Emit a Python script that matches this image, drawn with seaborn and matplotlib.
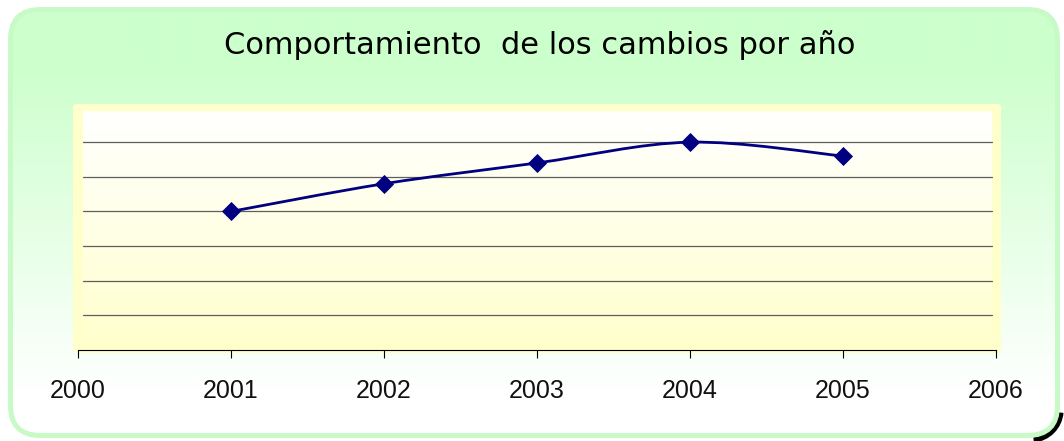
import numpy as np
import matplotlib
matplotlib.use("Agg")
import matplotlib.pyplot as plt
from matplotlib.patches import FancyBboxPatch, PathPatch, Arc
from matplotlib.path import Path
import seaborn as sns

# Chart data
years = [2001, 2002, 2003, 2004, 2005]
changes = [4.0, 4.8, 5.4, 6.0, 5.6]
x_ticks = [2000, 2001, 2002, 2003, 2004, 2005, 2006]
x_labels = ["2000", "2001", "2002", "2003", "2004", "2005", "2006"]
grid_levels = [1, 2, 3, 4, 5, 6]
title = "Comportamiento  de los cambios por año"

W, H = 1064, 441
sns.set_theme(style="white")
plt.rcParams["font.family"] = ["Liberation Sans", "DejaVu Sans"]

fig = plt.figure(figsize=(W / 100, H / 100), dpi=100)
fig.patch.set_facecolor("white")

# Background layer in pixel units (y grows downward)
bg = fig.add_axes([0, 0, 1, 1])
bg.set_xlim(0, W)
bg.set_ylim(H, 0)
bg.axis("off")

# Drop shadow at the lower-right corner of the card
r = 30
bg.add_patch(Arc((1031, 410), 2 * r, 2 * r,
                 theta1=5, theta2=85, color="black", lw=3.8, zorder=1))

# Card with vertical green-to-white gradient
card_xy, card_w, card_h = (10.5, 9.5), 1047, 426
clip = FancyBboxPatch(card_xy, card_w, card_h,
                      boxstyle=f"round,pad=0,rounding_size={r}",
                      transform=bg.transData)
rows = np.arange(H)
t = np.clip((rows - 60) / 335.0, 0, 1)[:, None]
green = np.array([0xCC, 0xFF, 0xCC]) / 255.0
grad = green * (1 - t) + np.ones(3) * t
im = bg.imshow(grad[:, None, :], extent=[0, W, H, 0], aspect="auto",
               interpolation="bilinear", zorder=2)
im.set_clip_path(clip)
bg.add_patch(FancyBboxPatch(card_xy, card_w, card_h,
                            boxstyle=f"round,pad=0,rounding_size={r}",
                            facecolor="none", edgecolor="#C8FAC8",
                            lw=3.6, zorder=3))

# Plot-area frame and its white-to-yellow fill
bg.add_patch(FancyBboxPatch((73, 104), 928, 249,
                            boxstyle="round,pad=0,rounding_size=4",
                            facecolor="#FFFFCC", edgecolor="none", zorder=4))
rows_in = np.linspace(0, 1, 240)[:, None]
yellow = np.array([0xFF, 0xFF, 0xCC]) / 255.0
grad_in = np.ones(3) * (1 - rows_in) + yellow * rows_in
bg.imshow(grad_in[:, None, :], extent=[83, 992, 350, 111], aspect="auto",
          interpolation="bilinear", zorder=5)

# Title
fig.text(540 / W, 1 - 54 / H, title, ha="center", va="baseline",
         fontsize=22, color="black", family=["DejaVu Sans"])

# Main axes
ax = fig.add_axes([78 / W, 1 - 350 / H, 918 / W, 239 / H])
ax.patch.set_alpha(0)
ax.set_xlim(x_ticks[0], x_ticks[-1])
ax.set_ylim(0, 6.9)

for g in grid_levels:
    ax.axhline(g, xmin=5 / 918, xmax=914 / 918, color="#5e5e5e",
               lw=0.9, zorder=1)


def smooth_path(xs, ys):
    """Smoothed line through the points (Catmull-Rom style Bezier)."""
    pts = np.column_stack([xs, ys]).astype(float)
    n = len(pts)
    verts = [pts[0]]
    codes = [Path.MOVETO]
    for i in range(n - 1):
        p0 = pts[i - 1] if i > 0 else pts[i]
        p1, p2 = pts[i], pts[i + 1]
        p3 = pts[i + 2] if i + 2 < n else pts[i + 1]
        verts += [p1 + (p2 - p0) / 6, p2 - (p3 - p1) / 6, p2]
        codes += [Path.CURVE4] * 3
    return Path(verts, codes)


ax.add_patch(PathPatch(smooth_path(years, changes), facecolor="none",
                       edgecolor="#000080", lw=2.0, zorder=3))
sns.scatterplot(x=years, y=changes, marker="D", s=95, color="#000080",
                linewidth=0, ax=ax, zorder=4, legend=False)

for side in ["left", "right", "top"]:
    ax.spines[side].set_visible(False)
ax.spines["bottom"].set_color("black")
ax.spines["bottom"].set_linewidth(0.8)
ax.set_yticks([])
ax.set_xticks(x_ticks)
ax.set_xticklabels(x_labels)
ax.tick_params(axis="x", bottom=True, direction="out", length=5.8,
               width=0.8, color="black", pad=15, labelsize=18,
               labelcolor="#111111")
ax.set_xlabel("")
ax.set_ylabel("")

fig.savefig("out.png", dpi=100)
